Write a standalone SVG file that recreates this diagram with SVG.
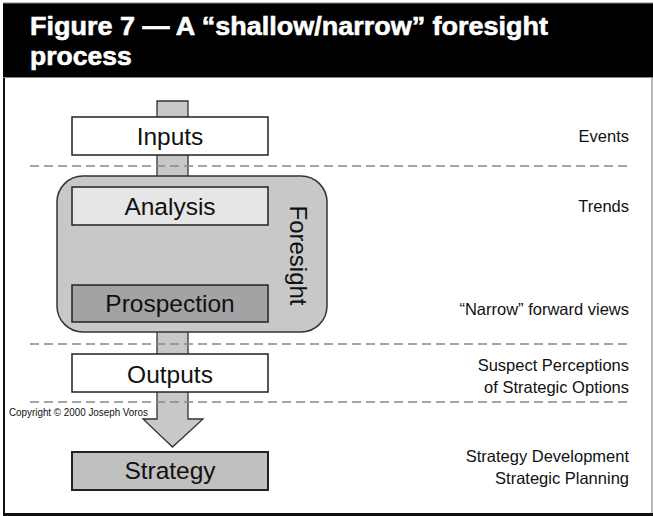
<svg xmlns="http://www.w3.org/2000/svg" width="653" height="516" viewBox="0 0 653 516">
<style>
.title{font-family:"Liberation Sans",Arial,sans-serif;font-weight:bold;font-size:26.5px;fill:#fff;stroke:#fff;stroke-width:0.6}
.node{font-family:"Liberation Sans",Arial,sans-serif;font-size:24.5px;fill:#111;text-anchor:middle}
.lab{font-family:"Liberation Sans",Arial,sans-serif;font-size:16.5px;fill:#111;text-anchor:end}
.copy{font-family:"Liberation Sans",Arial,sans-serif;font-size:10px;fill:#111}
.dash{stroke:#888;stroke-width:1.5;stroke-dasharray:9 5;fill:none}
.box{stroke:#222;stroke-width:1.5}
</style>
<rect x="0" y="0" width="653" height="516" fill="#fff"/>
<!-- frame -->
<line x1="4" y1="3" x2="4" y2="514" stroke="#111" stroke-width="2"/>
<line x1="652" y1="3" x2="652" y2="514" stroke="#888" stroke-width="1.2"/>
<line x1="3" y1="514.5" x2="653" y2="514.5" stroke="#111" stroke-width="3"/>
<!-- header -->
<rect x="3" y="3" width="650" height="74" fill="#000"/>
<line x1="3" y1="3" x2="653" y2="3" stroke="#888" stroke-width="1"/>
<line x1="3" y1="77.5" x2="653" y2="77.5" stroke="#888" stroke-width="1"/>
<text class="title" x="30" y="35" textLength="518" lengthAdjust="spacingAndGlyphs">Figure 7 — A “shallow/narrow” foresight</text>
<text class="title" x="30" y="65">process</text>
<!-- connectors -->
<g id="connectors">
<path d="M157,101 H188 V419 H203 L172.5,447 L143,419 H157 Z" fill="#c8c8c8" stroke="#333" stroke-width="1.3"/>
</g>
<!-- nodes -->
<g id="inputs">
<rect class="box" x="72" y="117" width="196" height="38" fill="#fff"/>
<text class="node" x="170" y="145">Inputs</text>
</g>
<g id="foresight">
<rect x="57" y="176" width="270" height="156" rx="26" ry="26" fill="#c8c8c8" stroke="#333" stroke-width="1.5"/>
<text class="node" transform="translate(290,255.5) rotate(90)" x="0" y="0" style="font-size:24px">Foresight</text>
</g>
<g id="analysis">
<rect class="box" x="72" y="187" width="196" height="38" fill="#e6e6e6"/>
<text class="node" x="170" y="215">Analysis</text>
</g>
<g id="prospection">
<rect class="box" x="72" y="285" width="196" height="37" fill="#a3a3a3"/>
<text class="node" x="170" y="312">Prospection</text>
</g>
<g id="outputs">
<rect class="box" x="72" y="354" width="196" height="38" fill="#fff"/>
<text class="node" x="170" y="383">Outputs</text>
</g>
<g id="strategy">
<rect x="72" y="452" width="196" height="38" fill="#c0c0c0" stroke="#222" stroke-width="2"/>
<text class="node" x="170" y="479">Strategy</text>
</g>
<!-- dashed separators -->
<line class="dash" x1="30" y1="166" x2="631" y2="166"/>
<line class="dash" x1="30" y1="344" x2="631" y2="344"/>
<line class="dash" x1="30" y1="402" x2="631" y2="402"/>
<text class="copy" x="9" y="416" textLength="139" lengthAdjust="spacingAndGlyphs">Copyright © 2000 Joseph Voros</text>
<!-- right labels -->
<text class="lab" x="629" y="142">Events</text>
<text class="lab" x="629" y="212">Trends</text>
<text class="lab" x="629" y="315">“Narrow” forward views</text>
<text class="lab" x="629" y="371">Suspect Perceptions</text>
<text class="lab" x="629" y="393">of Strategic Options</text>
<text class="lab" x="629" y="462">Strategy Development</text>
<text class="lab" x="629" y="484">Strategic Planning</text>
</svg>
